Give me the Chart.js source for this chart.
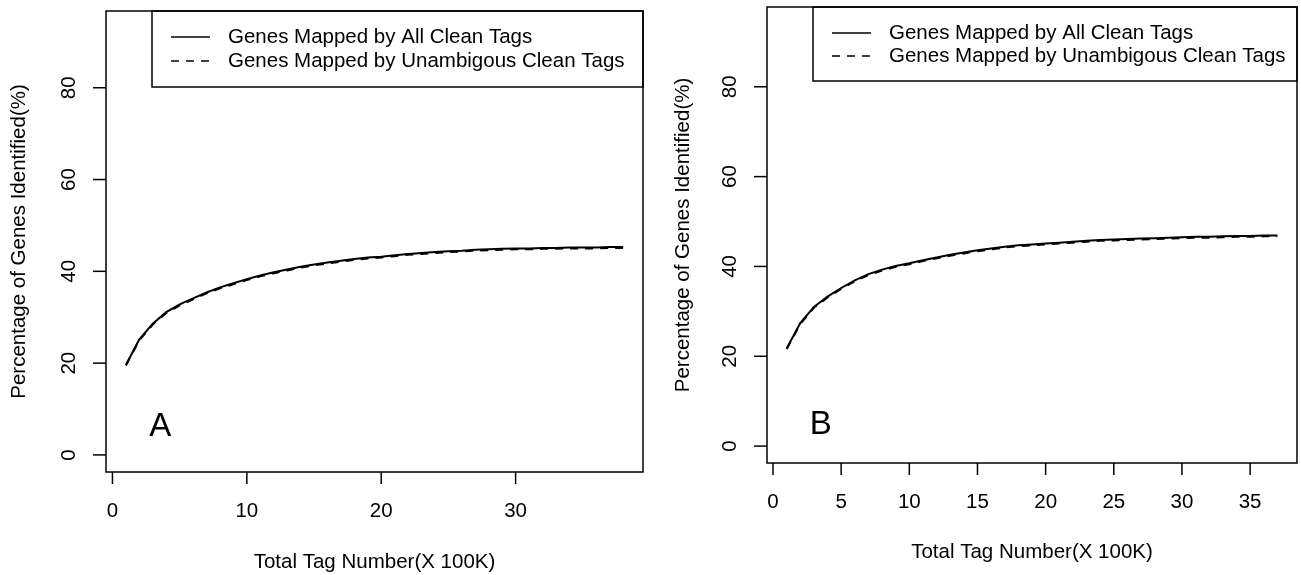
<!DOCTYPE html>
<html>
<head>
<meta charset="utf-8">
<title>Saturation curves</title>
<script src="https://cdn.jsdelivr.net/npm/chart.js@4.4.1/dist/chart.umd.min.js"></script>
<style>
    body { margin: 0; background: #fff; }
    #wrap { position: relative; width: 1301px; height: 575px; overflow: hidden; }
    canvas { position: absolute; top: 0; }
</style>
</head>
<body>
<div id="wrap">
    <canvas id="chart-a" width="650" height="575" style="left:0"></canvas>
    <canvas id="chart-b" width="651" height="575" style="left:650px"></canvas>
</div>
<script>
// Values (X 100K tags -> % genes identified)
const tagNumA = [1, 2, 3, 4, 5, 6, 7, 8, 9, 10, 11, 12, 13, 14, 15, 16, 17, 18, 19, 20,
                 21, 22, 23, 24, 25, 26, 27, 28, 29, 30, 31, 32, 33, 34, 35, 36, 37, 38];
const allTagsA = [19.6, 25.2, 28.6, 31.1, 32.8, 34.1, 35.4, 36.5, 37.4, 38.3, 39.1, 39.8, 40.4,
                  41.0, 41.5, 41.9, 42.3, 42.7, 43.0, 43.2, 43.5, 43.8, 44.0, 44.2, 44.4, 44.5,
                  44.7, 44.8, 44.9, 45.0, 45.0, 45.1, 45.1, 45.2, 45.2, 45.2, 45.3, 45.3];
const uniqueTagsA = [19.5, 25.0, 28.4, 30.9, 32.6, 33.9, 35.2, 36.3, 37.2, 38.1, 38.9, 39.6, 40.2,
                     40.8, 41.3, 41.7, 42.1, 42.5, 42.8, 43.0, 43.3, 43.6, 43.8, 44.0, 44.2, 44.3,
                     44.5, 44.6, 44.7, 44.8, 44.8, 44.9, 44.9, 45.0, 45.0, 45.0, 45.1, 45.1];

const tagNumB = [1, 2, 3, 4, 5, 6, 7, 8, 9, 10, 11, 12, 13, 14, 15, 16, 17, 18, 19, 20,
                 21, 22, 23, 24, 25, 26, 27, 28, 29, 30, 31, 32, 33, 34, 35, 36, 37];
const allTagsB = [21.7, 27.4, 31.0, 33.3, 35.2, 36.9, 38.3, 39.3, 40.1, 40.7, 41.4, 42.0, 42.6,
                  43.1, 43.6, 44.0, 44.4, 44.7, 44.9, 45.1, 45.3, 45.5, 45.7, 45.9, 46.0, 46.1,
                  46.2, 46.3, 46.4, 46.5, 46.6, 46.6, 46.7, 46.8, 46.8, 46.9, 46.9];
const uniqueTagsB = [21.6, 27.2, 30.8, 33.1, 35.0, 36.7, 38.1, 39.1, 39.9, 40.5, 41.2, 41.8, 42.4,
                     42.9, 43.4, 43.8, 44.2, 44.5, 44.7, 44.9, 45.1, 45.3, 45.5, 45.7, 45.8, 45.9,
                     46.0, 46.1, 46.2, 46.3, 46.4, 46.4, 46.5, 46.6, 46.6, 46.7, 46.7];

// Tick labels
const yTicks = [0, 20, 40, 60, 80];
const xTicksA = [0, 10, 20, 30];
const xTicksB = [0, 5, 10, 15, 20, 25, 30, 35];

const legendLabels = ['Genes Mapped by All Clean Tags', 'Genes Mapped by Unambigous Clean Tags'];
const xTitle = 'Total Tag Number(X 100K)';
const yTitle = 'Percentage of Genes Identified(%)';

const FONT = "'Liberation Sans', Arial, Helvetica, sans-serif";
const DASH = [8, 7];

// Draws the R-style frame, axes, legend and panel letter
const rFramePlugin = {
    id: 'rFrame',
    afterDraw(chart, args, opts) {
        const ctx = chart.ctx;
        const area = chart.chartArea;
        const xs = chart.scales.x;
        const ys = chart.scales.y;
        ctx.save();
        ctx.strokeStyle = '#000';
        ctx.fillStyle = '#000';
        ctx.lineWidth = 1.5;
        ctx.setLineDash([]);

        // plot box
        ctx.strokeRect(area.left, area.top, area.right - area.left, area.bottom - area.top);

        ctx.font = '20.5px ' + FONT;
        ctx.textAlign = 'center';
        ctx.textBaseline = 'middle';

        // y axis ticks, labels parallel to the axis
        yTicks.forEach(v => {
            const py = ys.getPixelForValue(v);
            ctx.beginPath();
            ctx.moveTo(area.left, py);
            ctx.lineTo(area.left - 13, py);
            ctx.stroke();
            ctx.save();
            ctx.translate(area.left - 37, py);
            ctx.rotate(-Math.PI / 2);
            ctx.fillText(String(v), 0, 0);
            ctx.restore();
        });

        // x axis ticks
        opts.xTicks.forEach(v => {
            const px = xs.getPixelForValue(v);
            ctx.beginPath();
            ctx.moveTo(px, area.bottom);
            ctx.lineTo(px, area.bottom + 12);
            ctx.stroke();
            ctx.fillText(String(v), px, area.bottom + 39);
        });

        // axis titles
        ctx.fillText(xTitle, (area.left + area.right) / 2, area.bottom + opts.xTitleGap);
        ctx.save();
        ctx.translate(opts.yTitleX, (area.top + area.bottom) / 2);
        ctx.rotate(-Math.PI / 2);
        ctx.fillText(yTitle, 0, 0);
        ctx.restore();

        // legend box in the top right corner
        const lx = area.left + opts.legendOffset;
        ctx.strokeRect(lx, area.top, area.right - lx, opts.legendHeight);
        ctx.textAlign = 'left';
        legendLabels.forEach((label, i) => {
            const ry = area.top + opts.rowY[i];
            ctx.save();
            ctx.lineWidth = 1.6;
            ctx.setLineDash(i === 1 ? DASH : []);
            ctx.beginPath();
            ctx.moveTo(lx + 19, ry);
            ctx.lineTo(lx + 58, ry);
            ctx.stroke();
            ctx.restore();
            ctx.fillText(label, lx + 76, ry);
        });

        // panel letter
        ctx.font = '33px ' + FONT;
        ctx.textAlign = 'center';
        ctx.fillText(opts.letter, xs.getPixelForValue(opts.letterAt[0]), ys.getPixelForValue(opts.letterAt[1]));
        ctx.restore();
    }
};

function makePanel(canvasId, tags, allVals, uniqueVals, cfg) {
    const ctx = document.getElementById(canvasId).getContext('2d');
    return new Chart(ctx, {
        type: 'line',
        data: {
            datasets: [{
                label: legendLabels[0],
                data: tags.map((t, i) => ({ x: t, y: allVals[i] })),
                borderColor: '#000',
                borderWidth: 2,
                pointRadius: 0,
                tension: 0,
                fill: false
            }, {
                label: legendLabels[1],
                data: tags.map((t, i) => ({ x: t, y: uniqueVals[i] })),
                borderColor: '#000',
                borderWidth: 2,
                borderDash: DASH,
                pointRadius: 0,
                tension: 0,
                fill: false
            }]
        },
        options: {
            responsive: false,
            animation: false,
            layout: { padding: cfg.padding },
            scales: {
                x: { type: 'linear', min: cfg.xRange[0], max: cfg.xRange[1], display: false },
                y: { type: 'linear', min: cfg.yRange[0], max: cfg.yRange[1], display: false }
            },
            plugins: {
                legend: { display: false },
                tooltip: { enabled: false },
                rFrame: cfg.frame
            }
        },
        plugins: [rFramePlugin]
    });
}

makePanel('chart-a', tagNumA, allTagsA, uniqueTagsA, {
    padding: { left: 106, top: 11, right: 7, bottom: 103 },
    xRange: [-0.48, 39.48],
    yRange: [-3.72, 96.72],
    frame: {
        xTicks: xTicksA,
        xTitleGap: 90,
        yTitleX: 19,
        legendOffset: 46,
        legendHeight: 76,
        rowY: [26, 50],
        letter: 'A',
        letterAt: [3.55, 6.2]
    }
});

makePanel('chart-b', tagNumB, allTagsB, uniqueTagsB, {
    padding: { left: 117, top: 7, right: 4, bottom: 112 },
    xRange: [-0.44, 38.44],
    yRange: [-3.76, 97.76],
    frame: {
        xTicks: xTicksB,
        xTitleGap: 89,
        yTitleX: 33,
        legendOffset: 46,
        legendHeight: 74,
        rowY: [26, 49],
        letter: 'B',
        letterAt: [3.5, 4.8]
    }
});
</script>
</body>
</html>
